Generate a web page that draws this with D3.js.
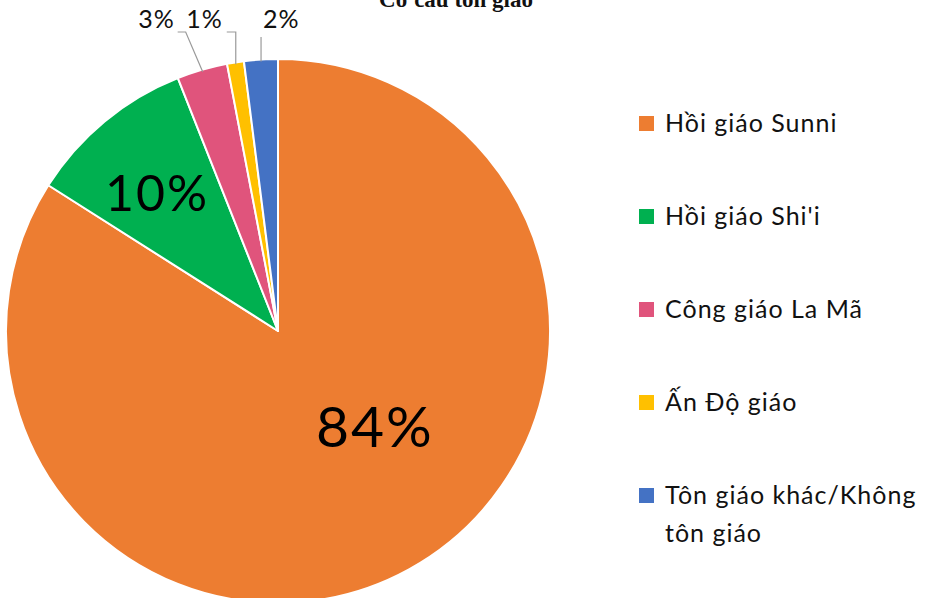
<!DOCTYPE html>
<meta charset="utf-8">
<style>
  body { margin: 0; background: #fff; }
  .title { font-family: "Liberation Serif", serif; font-weight: bold; font-size: 23px; fill: #111; }
  .pct-in { font-family: Lato, sans-serif; fill: #000; letter-spacing: 2px; }
  .pct-out { font-family: Lato, sans-serif; font-size: 25px; fill: #111; letter-spacing: 1px; }
  .legend-label { font-family: Lato, sans-serif; font-size: 25px; fill: #111; letter-spacing: 1px; }
</style>
<script src="https://d3js.org/d3.v7.min.js"></script>
<div id="chart"></div>
<script>
  // data
  const religions = ["Hồi giáo Sunni", "Hồi giáo Shi'i", "Công giáo La Mã", "Ấn Độ giáo", "Tôn giáo khác/Không tôn giáo"];
  const shares = [84, 10, 3, 1, 2];
  const colors = ["#ED7D31", "#00B050", "#E0547C", "#FFC000", "#4472C4"];

  const width = 938, height = 598;
  const cx = 278, cy = 331, radius = 272;

  const svg = d3.select("#chart")
    .append("svg")
      .attr("width", width)
      .attr("height", height);

  // title, mostly cut off at the top edge like the original
  svg.append("text")
    .attr("class", "title")
    .attr("x", 456)
    .attr("y", 7)
    .attr("text-anchor", "middle")
    .text("Cơ cấu tôn giáo");

  const color = d3.scaleOrdinal().domain(religions).range(colors);

  const pie = d3.pie().sort(null).value(function(d, i){ return shares[i]; });
  const arcs = pie(religions);

  const arc = d3.arc().innerRadius(0).outerRadius(radius);

  const g = svg.append("g")
    .attr("transform", `translate(${cx}, ${cy})`);

  g.selectAll("path")
    .data(arcs)
    .join("path")
      .attr("d", arc)
      .attr("fill", function(d){ return color(d.data); })
      .attr("stroke", "#fff")
      .attr("stroke-width", 2)
      .attr("stroke-linejoin", "round");

  // point on the circle at a given angle (d3 angles: 0 = 12 o'clock, clockwise)
  function polar(a, r) {
    return [Math.sin(a) * r, -Math.cos(a) * r];
  }
  function mid(d) { return (d.startAngle + d.endAngle) / 2; }

  // labels inside the two big slices
  const inside = [
    {i: 0, r: 0.5, shift: -0.29, size: 57},
    {i: 1, r: 0.675, shift: -0.028, size: 50}
  ];
  inside.forEach(function(o) {
    const d = arcs[o.i];
    const p = polar(mid(d) + o.shift, radius * o.r);
    g.append("text")
      .attr("class", "pct-in")
      .attr("x", p[0])
      .attr("y", p[1])
      .attr("dy", "0.36em")
      .attr("text-anchor", "middle")
      .style("font-size", o.size + "px")
      .text(shares[o.i] + "%");
  });

  // small slices: labels above the pie with leader lines
  const lineY = 32 - cy;
  const outside = [
    {i: 2, elbow: -17, tail: -25, anchor: "end", tx: -28, ty: 28},
    {i: 3, elbow: 0, tail: -9, anchor: "end", tx: -13, ty: 28},
    {i: 4, elbow: 0, tail: 0, anchor: "start", tx: 2, ty: 28, top: 37}
  ];
  outside.forEach(function(o) {
    const d = arcs[o.i];
    const p = polar(mid(d), radius - 2);
    const y0 = o.top !== undefined ? o.top - cy : lineY;
    const pts = [p, [p[0] + o.elbow, y0], [p[0] + o.tail, y0]];
    g.append("path")
      .attr("d", d3.line()(pts))
      .attr("fill", "none")
      .attr("stroke", "#9a9a9a")
      .attr("stroke-width", 1.2);
    g.append("text")
      .attr("class", "pct-out")
      .attr("x", p[0] + o.tx)
      .attr("y", o.ty - cy)
      .attr("text-anchor", o.anchor)
      .text(shares[o.i] + "%");
  });

  // legend
  const legend = svg.append("g")
    .attr("transform", "translate(639, 0)");

  const rows = legend.selectAll("g")
    .data(religions)
    .join("g")
      .attr("transform", function(d, i){ return `translate(0, ${132 + i * 93})`; });

  rows.append("rect")
    .attr("x", 0)
    .attr("y", -16)
    .attr("width", 15)
    .attr("height", 15)
    .attr("fill", function(d){ return color(d); });

  rows.append("text")
    .attr("class", "legend-label")
    .attr("x", 26)
    .attr("y", 0)
    .each(function(d) {
      // wrap the long label onto two lines
      const t = d3.select(this);
      if (d.indexOf("Không ") > 0) {
        const cut = d.indexOf("Không ") + 5;
        t.append("tspan").attr("x", 26).text(d.slice(0, cut));
        t.append("tspan").attr("x", 26).attr("dy", 38).text(d.slice(cut + 1));
      } else {
        t.text(d);
      }
    });
</script>
